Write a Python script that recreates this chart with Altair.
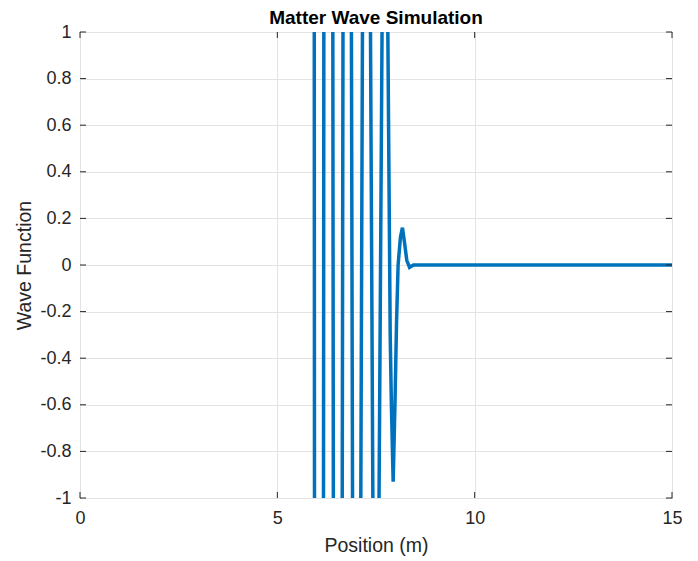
import altair as alt
import pandas as pd

# Wave function samples (values beyond +/-1 are clipped)
x_pos = [5.80, 6.03, 6.27, 6.51, 6.75, 6.99, 7.24, 7.49, 7.71, 7.80, 7.86, 7.89,
         7.935, 7.98, 8.02, 8.06, 8.12, 8.17, 8.22, 8.28, 8.35, 8.45, 15.0]
wave = [50, -33, 22, -15, 10, -7, 5, -3.3, 2.5, 1.0, -0.3, -0.6,
        -0.93, -0.6, -0.25, 0.0, 0.12, 0.16, 0.10, 0.02, -0.01, 0.0, 0.0]

x_ticks = [0, 5, 10, 15]
y_ticks = [-1, -0.8, -0.6, -0.4, -0.2, 0, 0.2, 0.4, 0.6, 0.8, 1]

W, H = 592, 466
TXT = "#262626"
FONT = "Liberation Sans"

df = pd.DataFrame({"x": x_pos, "y": wave})
dfx = pd.DataFrame({"t": x_ticks})
dfy = pd.DataFrame({"t": y_ticks})

xs = alt.Scale(domain=[0, 15], nice=False, zero=False)
ys = alt.Scale(domain=[-1, 1], nice=False, zero=False)

lab = "datum.value < 0 ? '-' + format(-datum.value, '.1~f') : format(datum.value, '.1~f')"

line = alt.Chart(df).mark_line(clip=True, color="#0072BD", strokeWidth=3.5).encode(
    x=alt.X("x:Q", scale=xs, title="Position (m)",
            axis=alt.Axis(values=x_ticks, grid=True, ticks=False, domain=False,
                          labelFlush=False, labelPadding=11, titlePadding=9,
                          labelExpr=lab)),
    y=alt.Y("y:Q", scale=ys, title="Wave Function",
            axis=alt.Axis(values=y_ticks, grid=True, ticks=False, domain=False,
                          labelFlush=False, labelPadding=9, titlePadding=5,
                          labelExpr=lab)),
)

tb = alt.Chart(dfx).mark_rule(color=TXT, strokeWidth=1).encode(
    x=alt.X("t:Q", scale=xs), y=alt.value(H), y2=alt.value(H - 6))
tt = alt.Chart(dfx).mark_rule(color=TXT, strokeWidth=1).encode(
    x=alt.X("t:Q", scale=xs), y=alt.value(0), y2=alt.value(6))
tl = alt.Chart(dfy).mark_rule(color=TXT, strokeWidth=1).encode(
    y=alt.Y("t:Q", scale=ys), x=alt.value(0), x2=alt.value(6))
tr = alt.Chart(dfy).mark_rule(color=TXT, strokeWidth=1).encode(
    y=alt.Y("t:Q", scale=ys), x=alt.value(W), x2=alt.value(W - 6))

chart = alt.layer(line, tb, tt, tl, tr).properties(
    width=W, height=H,
    background="white",
    title=alt.TitleParams("Matter Wave Simulation", fontSize=19, fontWeight="bold",
                          font=FONT, color="black", anchor="middle", offset=-5),
    autosize=alt.AutoSizeParams(type="none"),
    padding={"left": 80, "top": 32, "right": 26, "bottom": 63},
).configure_view(
    stroke=TXT, strokeWidth=1
).configure_axis(
    labelFont=FONT, titleFont=FONT, labelFontSize=18, titleFontSize=19.5,
    labelColor=TXT, titleColor=TXT, titleFontWeight="normal",
    gridColor="#e3e3e3", gridWidth=1,
)

chart.save("out.html", embed_options={"renderer": "svg", "actions": False})
